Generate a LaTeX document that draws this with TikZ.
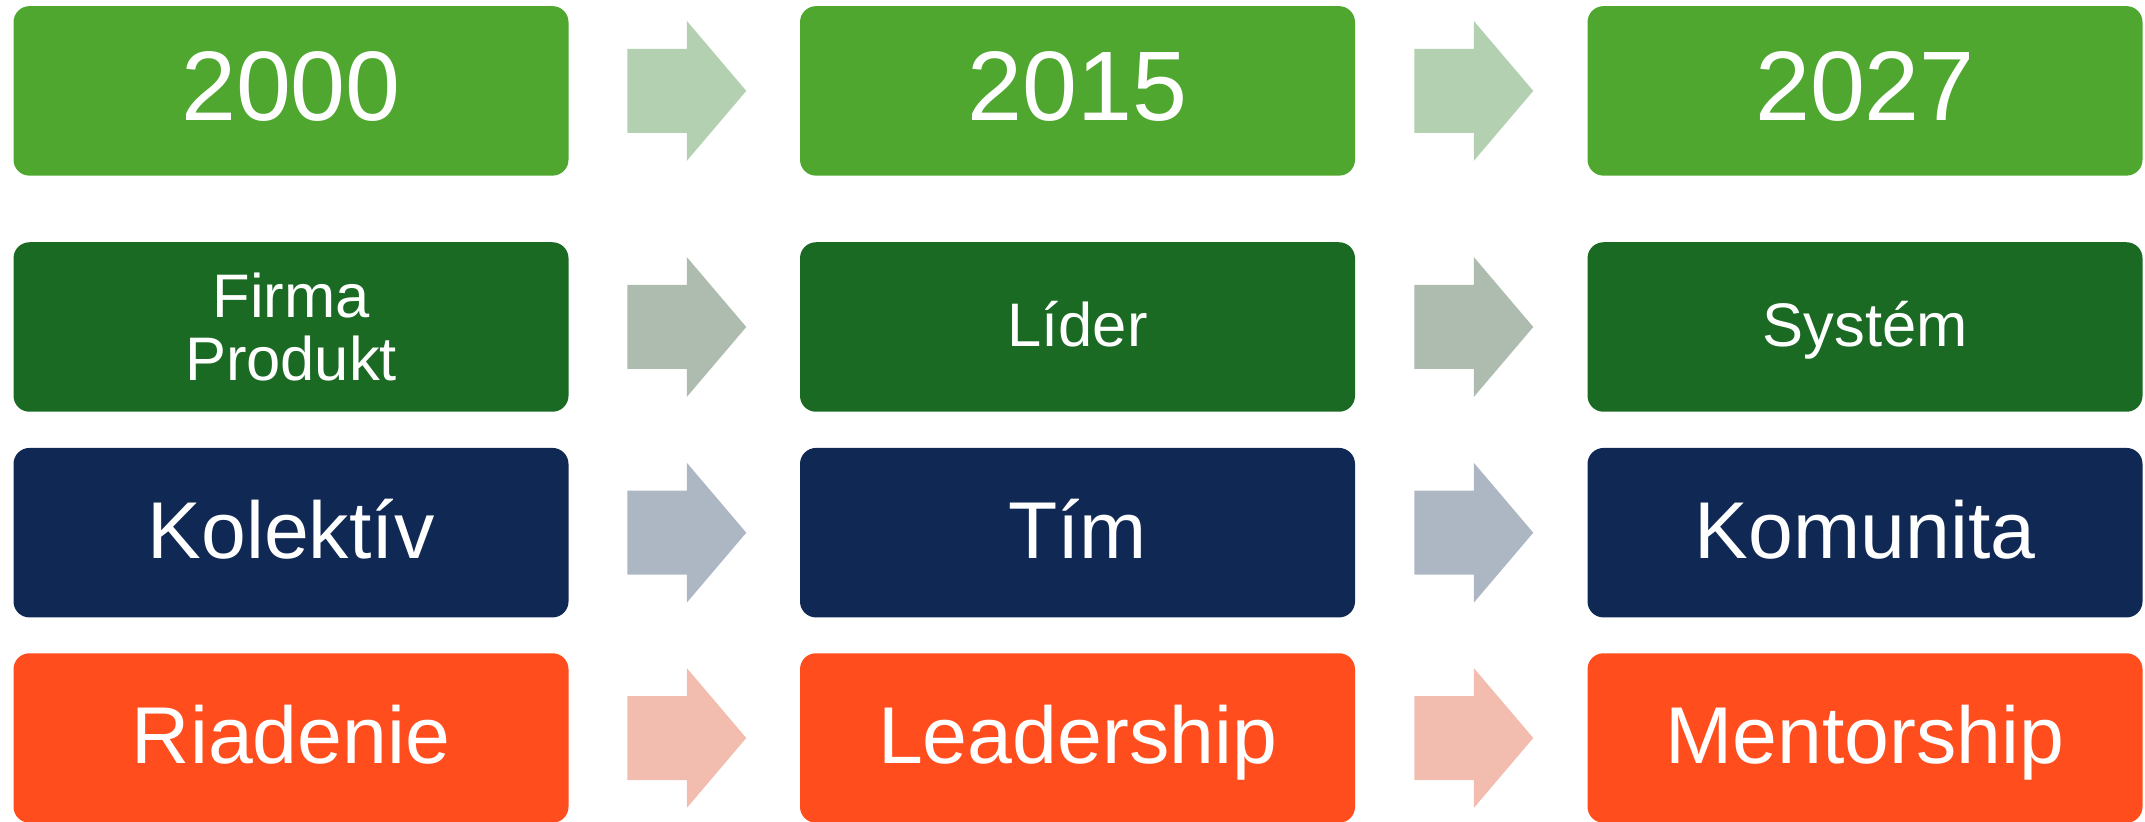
\documentclass[tikz,border=0pt]{standalone}
\usepackage{fontspec}
\setmainfont{Liberation Sans}
\usetikzlibrary{calc}

\definecolor{yeargreen}{RGB}{80,167,48}
\definecolor{leafgreen}{RGB}{27,106,36}
\definecolor{deepnavy}{RGB}{16,40,84}
\definecolor{flameorange}{RGB}{255,77,30}
\definecolor{arrowgreen}{RGB}{179,208,177}
\definecolor{arrowsage}{RGB}{173,188,174}
\definecolor{arrowslate}{RGB}{172,183,195}
\definecolor{arrowpink}{RGB}{242,188,174}

% block arrow between two boxes
\newcommand{\blockarrow}[3]{%
  \fill[#3] ($(#1.east)!.5!(#2.west)+(-57,-42)$) -- ++(59.5,0) -- ++(0,-28) -- ++(59.5,70) -- ++(-59.5,70) -- ++(0,-28) -- ++(-59.5,0) -- cycle;}

\begin{document}
\begin{tikzpicture}[x=0.5pt,y=0.5pt,yscale=-1,xscale=1,
  stage/.style={rectangle, rounded corners=8pt, minimum width=277.5pt, minimum height=84.75pt, inner sep=0pt, text=white, align=center},
  yearbox/.style={stage, fill=yeargreen, font=\fontsize{49.4}{51}\selectfont, text height=29.8pt, text depth=0pt},
  ideabox/.style={stage, fill=leafgreen, font=\fontsize{30.75}{31.65}\selectfont},
  ideaone/.style={ideabox, text height=19.7pt, text depth=0pt},
  teambox/.style={stage, fill=deepnavy, font=\fontsize{40.3}{42}\selectfont, text height=25.5pt, text depth=0pt},
  leadbox/.style={stage, fill=flameorange, font=\fontsize{40.3}{42}\selectfont, text height=25.5pt, text depth=0pt}]
  \useasboundingbox (0,0) rectangle (2145,822);

  % Row: years
  \node[yearbox] (y2000) at (291,90.9) {2000};
  \node[yearbox] (y2015) at (1077.5,90.9) {2015};
  \node[yearbox] (y2027) at (1865,90.9) {2027};
  % Row: firma
  \node[ideabox] (firma) at (291,327) {Firma\\Produkt};
  \node[ideaone] (lider) at (1077.5,327) {Líder};
  \node[ideaone] (system) at (1865,327) {Systém};
  % Row: kolektiv
  \node[teambox] (kolektiv) at (291,532.7) {Kolektív};
  \node[teambox] (tim) at (1077.5,532.7) {Tím};
  \node[teambox] (komunita) at (1865,532.7) {Komunita};
  % Row: riadenie
  \node[leadbox] (riadenie) at (291,738) {Riadenie};
  \node[leadbox] (leadership) at (1077.5,738) {Leadership};
  \node[leadbox] (mentorship) at (1865,738) {Mentorship};

  % Arrows
  \blockarrow{y2000}{y2015}{arrowgreen}
  \blockarrow{y2015}{y2027}{arrowgreen}
  \blockarrow{firma}{lider}{arrowsage}
  \blockarrow{lider}{system}{arrowsage}
  \blockarrow{kolektiv}{tim}{arrowslate}
  \blockarrow{tim}{komunita}{arrowslate}
  \blockarrow{riadenie}{leadership}{arrowpink}
  \blockarrow{leadership}{mentorship}{arrowpink}
\end{tikzpicture}
\end{document}
